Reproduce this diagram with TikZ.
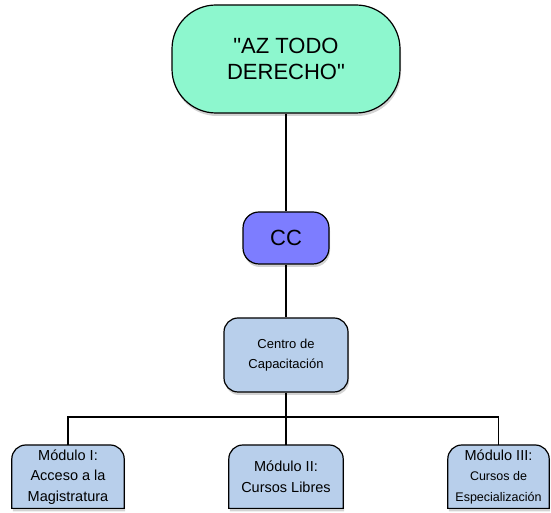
\documentclass[tikz,border=0pt]{standalone}
\usepackage{fontspec}
\setmainfont{Liberation Sans}
\usetikzlibrary{shadows,backgrounds}
\definecolor{mint}{RGB}{141,247,206}
\definecolor{lilac}{RGB}{125,125,255}
\definecolor{paleblue}{RGB}{184,207,235}
\newcommand\smallmod{\fontsize{12.5}{16}\selectfont}
\tikzset{
  boxshadow/.style={drop shadow={shadow xshift=1pt,shadow yshift=-3pt,opacity=0.35}},
  orgbox/.style={draw, line width=1.2pt, boxshadow, align=center, inner sep=0pt},
  topbox/.style={orgbox, fill=mint, rounded corners=44pt,
    minimum width=228pt, minimum height=108pt, font=\fontsize{22}{26}\selectfont},
  ccbox/.style={orgbox, fill=lilac, rounded corners=16pt,
    minimum width=86pt, minimum height=52pt, font=\fontsize{22}{26}\selectfont},
  centrobox/.style={orgbox, fill=paleblue, rounded corners=14pt,
    minimum width=124pt, minimum height=74pt, font=\fontsize{13}{20}\selectfont},
  modbox/.style={anchor=north, minimum height=63pt, align=center, inner sep=0pt,
    font=\fontsize{14.5}{20.5}\selectfont},
  link/.style={line width=1.1pt},
}
\begin{document}
\begin{tikzpicture}[x=1pt,y=1pt]
    \useasboundingbox (0,0) rectangle (551,513);

    \node[topbox] (az) at (286,454) {\textquotedbl AZ TODO\\DERECHO\textquotedbl};
    \node[ccbox] (cc) at (286,275) {CC};
    \node[centrobox] (centro) at (286,158) {Centro de\\Capacitación};
    \coordinate (bar) at (286,96);

    % modulos
    \node[modbox, minimum width=112pt] (m1) at (68,68) {Módulo I:\\Acceso a la\\Magistratura};
    \node[modbox, minimum width=114pt] (m2) at (286,68) {Módulo II:\\Cursos Libres};
    \node[modbox, minimum width=101pt] (m3) at (498.5,68) {Módulo III:\\{\smallmod Cursos de}\\{\smallmod Especialización}};

    \begin{scope}[on background layer]
      \foreach \m in {m1,m2,m3}
        \draw[line width=1.2pt, fill=paleblue, boxshadow]
          (\m.south west) -- ([yshift=-14pt]\m.north west)
          arc[start angle=180, end angle=90, radius=14pt]
          -- ([xshift=-14pt]\m.north east)
          arc[start angle=90, end angle=0, radius=14pt]
          -- (\m.south east) -- cycle;
    \end{scope}

    \draw[link] (az) -- (cc);
    \draw[link] (cc) -- (centro);
    \draw[link] (centro) -- (bar);
    \draw[link] (m1.north) |- (bar) -| (m3.north);
    \draw[link] (bar) -- (m2.north);
\end{tikzpicture}
\end{document}
